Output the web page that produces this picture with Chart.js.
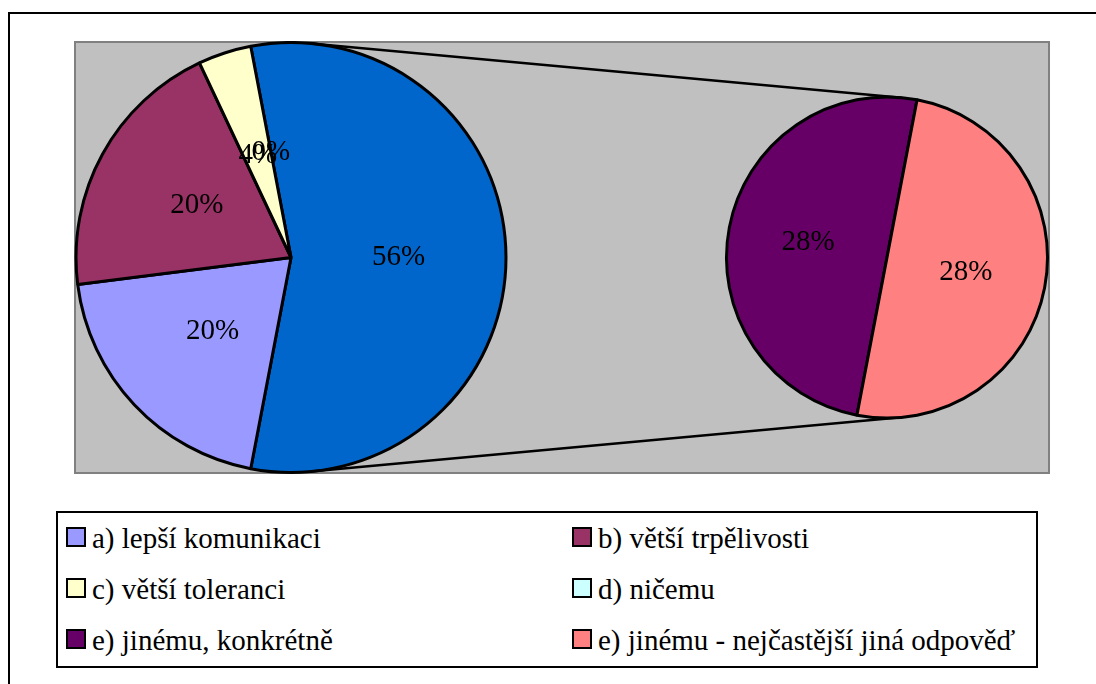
<!DOCTYPE html>
<html lang="cs">
<head>
    <meta charset="UTF-8">
    <title>Pie of pie</title>
    <script src="https://cdn.jsdelivr.net/npm/chart.js"></script>
    <style>
        body {
            margin: 0;
            width: 1096px;
            height: 684px;
            overflow: hidden;
            background: #fff;
            position: relative;
            font-family: 'Liberation Serif', Tinos, 'Times New Roman', Times, 'DejaVu Serif', serif;
        }

        #frame {
            position: absolute;
            left: 8px;
            top: 12px;
            width: 1120px;
            height: 720px;
            border: 2px solid #000;
            box-sizing: border-box;
        }

        #plotArea {
            position: absolute;
            left: 74px;
            top: 41px;
            width: 976px;
            height: 433px;
            background: #c0c0c0;
            border: 2px solid #808080;
            box-sizing: border-box;
        }

        .chartBox {
            position: absolute;
            left: 74px;
            top: 41px;
            width: 976px;
            height: 433px;
        }

        #legend {
            position: absolute;
            left: 56px;
            top: 511px;
            width: 982px;
            height: 157px;
            border: 2px solid #000;
            box-sizing: border-box;
            background: #fff;
        }

        .item {
            position: absolute;
            font-size: 29px;
            line-height: 29px;
            white-space: nowrap;
            padding-left: 26px;
            color: #000;
        }

        .swatch {
            position: absolute;
            left: 0;
            top: 3px;
            width: 20px;
            height: 20px;
            border: 2px solid #000;
            box-sizing: border-box;
        }
    </style>
</head>

<body>
    <div id="frame"></div>
    <div id="plotArea"></div>
    <div class="chartBox"><canvas id="mainPie"></canvas></div>
    <div class="chartBox"><canvas id="subPie"></canvas></div>
    <div id="legend"></div>

    <script>
        // answers and their shares (%)
        const labels = ['a) lepší komunikaci', 'b) větší trpělivosti', 'c) větší toleranci', 'd) ničemu',
            'e) jinému, konkrétně', 'e) jinému - nejčastější jiná odpověď'];
        const values = [20, 20, 4, 0, 28, 28];
        const colors = ['#9999ff', '#993366', '#ffffcc', '#ccffff', '#660066', '#ff8080'];
        const otherColor = '#0066cc';

        // first four go into the big pie, the two "e)" answers are split out
        const mainValues = [values[4] + values[5], values[0], values[1], values[2], values[3]];
        const mainColors = [otherColor, colors[0], colors[1], colors[2], colors[3]];
        const subValues = [values[4], values[5]];
        const subColors = [colors[4], colors[5]];

        const labelFont = '29px "Liberation Serif", Tinos, "Times New Roman", Times, "DejaVu Serif", serif';

        // percent labels in the middle of each slice
        const pctLabels = {
            id: 'pctLabels',
            afterDatasetsDraw(chart) {
                const ctx = chart.ctx;
                const data = chart.data.datasets[0].data;
                ctx.save();
                ctx.font = labelFont;
                ctx.fillStyle = '#000';
                ctx.textAlign = 'center';
                ctx.textBaseline = 'middle';
                chart.getDatasetMeta(0).data.forEach((arc, i) => {
                    const p = arc.tooltipPosition();
                    ctx.fillText(data[i] + '%', p.x, p.y);
                });
                ctx.restore();
            }
        };

        function pieOptions(rotation, padding) {
            return {
                responsive: true,
                maintainAspectRatio: false,
                animation: false,
                events: [],
                rotation: rotation,
                layout: { padding: padding },
                plugins: {
                    legend: { display: false },
                    tooltip: { enabled: false }
                }
            };
        }

        const mainChart = new Chart(document.getElementById('mainPie'), {
            type: 'pie',
            data: {
                labels: ['e)', labels[0], labels[1], labels[2], labels[3]],
                datasets: [{
                    data: mainValues,
                    backgroundColor: mainColors,
                    borderColor: '#000',
                    borderWidth: 3
                }]
            },
            options: pieOptions(90 - mainValues[0] / 100 * 180, { left: 0, right: 542, top: 0, bottom: 0 }),
            plugins: [pctLabels]
        });

        // lines joining the two pies (outer tangents), drawn under the small pie
        const connectors = {
            id: 'connectors',
            beforeDatasetsDraw(chart) {
                const a = mainChart.getDatasetMeta(0).data[0];
                const b = chart.getDatasetMeta(0).data[0];
                const d = Math.hypot(b.x - a.x, b.y - a.y);
                const base = Math.atan2(b.y - a.y, b.x - a.x);
                const t = Math.acos((a.outerRadius - b.outerRadius) / d);
                const ctx = chart.ctx;
                ctx.save();
                ctx.strokeStyle = '#000';
                ctx.lineWidth = 2.5;
                [-1, 1].forEach(s => {
                    const ang = base + s * t;
                    ctx.beginPath();
                    ctx.moveTo(a.x + a.outerRadius * Math.cos(ang), a.y + a.outerRadius * Math.sin(ang));
                    ctx.lineTo(b.x + b.outerRadius * Math.cos(ang), b.y + b.outerRadius * Math.sin(ang));
                    ctx.stroke();
                });
                ctx.restore();
            }
        };

        const subChart = new Chart(document.getElementById('subPie'), {
            type: 'pie',
            data: {
                labels: [labels[4], labels[5]],
                datasets: [{
                    data: subValues,
                    backgroundColor: subColors,
                    borderColor: '#000',
                    borderWidth: 3
                }]
            },
            options: pieOptions(190.8, { left: 651, right: 1, top: 0, bottom: 0 }),
            plugins: [connectors, pctLabels]
        });

        // legend box, two columns
        const legend = document.getElementById('legend');
        labels.forEach((text, i) => {
            const item = document.createElement('div');
            item.className = 'item';
            item.style.left = (i % 2 === 0 ? 8 : 514) + 'px';
            item.style.top = (11 + Math.floor(i / 2) * 51) + 'px';
            const sw = document.createElement('span');
            sw.className = 'swatch';
            sw.style.background = colors[i];
            item.appendChild(sw);
            item.appendChild(document.createTextNode(text));
            legend.appendChild(item);
        });
    </script>
</body>

</html>
